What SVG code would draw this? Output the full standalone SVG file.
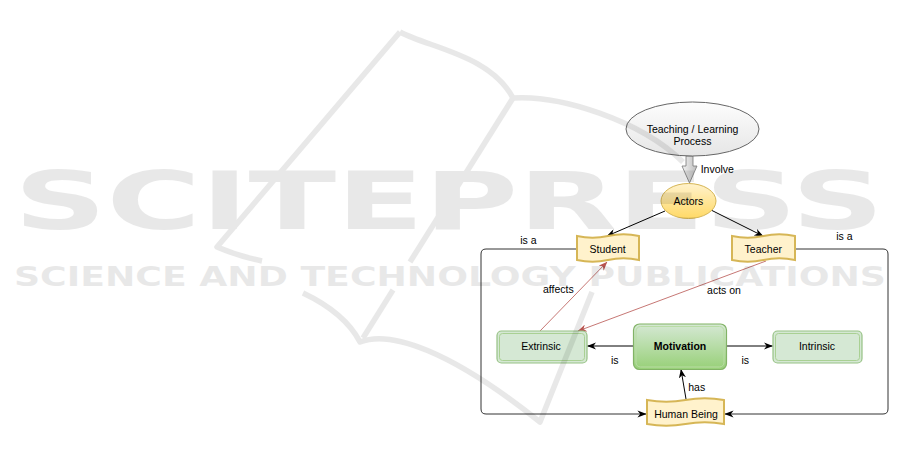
<svg xmlns="http://www.w3.org/2000/svg" width="901" height="460" viewBox="0 0 901 460">
<defs>
<style>
.lbl{font-family:"Liberation Sans",Arial,sans-serif;font-size:10.5px;fill:#000;text-anchor:middle}
.bold{font-weight:bold}
.edge{fill:none;stroke:#000;stroke-width:1}
.loop{fill:none;stroke:#333;stroke-width:1}
.red{fill:none;stroke:#b85450;stroke-width:0.8}
.tape{fill:#fff2cc;stroke:#d6b656;stroke-width:2}
.soft{fill:#d5e8d4;stroke:#97c285;stroke-width:1.2}
.inner{fill:none;stroke:#a9d093;stroke-width:1}
.wm{font-family:"DejaVu Sans",sans-serif;font-weight:bold;fill:#000}
.wml{fill:none;stroke:#000;stroke-width:5.5;stroke-linejoin:round}
</style>
<linearGradient id="gGray" x1="0" y1="0" x2="0" y2="1"><stop offset="0" stop-color="#fdfdfd"/><stop offset="1" stop-color="#e6e6e6"/></linearGradient>
<linearGradient id="gYellow" x1="0" y1="0" x2="0" y2="1"><stop offset="0" stop-color="#fff2cc"/><stop offset="1" stop-color="#ffd966"/></linearGradient>
<linearGradient id="gGreen" x1="0" y1="0" x2="0" y2="1"><stop offset="0" stop-color="#d5e8d4"/><stop offset="1" stop-color="#97d077"/></linearGradient>
<linearGradient id="gArrow" x1="0" y1="0" x2="1" y2="0"><stop offset="0" stop-color="#f4f4f4"/><stop offset="1" stop-color="#bdbdbd"/></linearGradient>
<marker id="ah" viewBox="0 0 10 8" refX="9.5" refY="4" markerWidth="9" markerHeight="7.2" orient="auto" markerUnits="userSpaceOnUse"><path d="M0,0 L10,4 L0,8 L3,4 Z" fill="#000"/></marker>
<marker id="ahr" viewBox="0 0 10 8" refX="9.5" refY="4" markerWidth="9" markerHeight="7.2" orient="auto" markerUnits="userSpaceOnUse"><path d="M0,0 L10,4 L0,8 L3,4 Z" fill="#b85450"/></marker>
</defs>
<rect width="901" height="460" fill="#fff"/>

<g id="connectors">
  <polygon points="686,156 693,156 693,166 697,166 689.5,183 682,166 686,166" fill="url(#gArrow)" stroke="#777" stroke-width="0.8"/>
  <text class="lbl" x="717.3" y="173">Involve</text>
  <path class="edge" d="M665,211 L607,236" marker-end="url(#ah)"/>
  <path class="edge" d="M711,210 L763,236" marker-end="url(#ah)"/>
  <path class="loop" d="M577,249 H486 Q481,249 481,254 V409 Q481,414 486,414 H646" marker-end="url(#ah)"/>
  <text class="lbl" x="528.3" y="243.7">is a</text>
  <path class="loop" d="M795,249 H883 Q888,249 888,254 V409 Q888,414 883,414 H725" marker-end="url(#ah)"/>
  <text class="lbl" x="844.3" y="239.7">is a</text>
  <path class="red" d="M540,331 L607,262" marker-end="url(#ahr)"/>
  <text class="lbl" x="558.3" y="293">affects</text>
  <path class="red" d="M766,261 L578,331" marker-end="url(#ahr)"/>
  <text class="lbl" x="724" y="293.7">acts on</text>
  <path class="edge" d="M633,346 H587.5" marker-end="url(#ah)"/>
  <text class="lbl" x="614.7" y="363.7">is</text>
  <path class="edge" d="M727,346 H772.5" marker-end="url(#ah)"/>
  <text class="lbl" x="745.3" y="363.7">is</text>
  <path class="edge" d="M686,399 L681,369.5" marker-end="url(#ah)"/>
  <text class="lbl" x="696.7" y="391">has</text>
</g>

<g id="teaching">
  <ellipse cx="692.5" cy="129" rx="66.5" ry="27" fill="url(#gGray)" stroke="#666" stroke-width="1"/>
  <text class="lbl" x="692.5" y="132.7">Teaching / Learning</text>
  <text class="lbl" x="692.5" y="144.7">Process</text>
</g>
<g id="actors">
  <ellipse cx="688.5" cy="201" rx="27.5" ry="17.5" fill="url(#gYellow)" stroke="#d6b656" stroke-width="1"/>
  <text class="lbl" x="688.5" y="204.7">Actors</text>
</g>
<g id="student">
  <path class="tape" transform="translate(577,234)" d="M0,2 Q15.5,5.6 31,2 Q46.5,-1.6 62,2 L62,26 Q46.5,22.4 31,26 Q15.5,29.6 0,26 Z"/>
  <text class="lbl" x="607.7" y="252.7">Student</text>
</g>
<g id="teacher">
  <path class="tape" transform="translate(732,234)" d="M0,2 Q15.75,5.6 31.5,2 Q47.25,-1.6 63,2 L63,26 Q47.25,22.4 31.5,26 Q15.75,29.6 0,26 Z"/>
  <text class="lbl" x="763.3" y="252.7">Teacher</text>
</g>
<g id="human-being">
  <path class="tape" transform="translate(647,398)" d="M0,2 Q19.25,5.6 38.5,2 Q57.75,-1.6 77,2 L77,26 Q57.75,22.4 38.5,26 Q19.25,29.6 0,26 Z"/>
  <text class="lbl" x="686" y="417.7">Human Being</text>
</g>
<g id="motivation">
  <rect x="633.5" y="324" width="93" height="45.5" rx="6" fill="url(#gGreen)" stroke="#82b366" stroke-width="1.2"/>
  <rect x="636" y="326.5" width="88" height="40.5" rx="4.5" fill="none" stroke="#b9dca5" stroke-width="1"/>
  <text class="lbl bold" x="680" y="349.7">Motivation</text>
</g>
<g id="extrinsic">
  <rect class="soft" x="497" y="331" width="90" height="32" rx="4.5"/>
  <rect class="inner" x="499.5" y="333.5" width="85" height="27" rx="3"/>
  <text class="lbl" x="541" y="349.7">Extrinsic</text>
</g>
<g id="intrinsic">
  <rect class="soft" x="773" y="331" width="89" height="32" rx="4.5"/>
  <rect class="inner" x="775.5" y="333.5" width="84" height="27" rx="3"/>
  <text class="lbl" x="817" y="349.7">Intrinsic</text>
</g>

<g id="watermark" opacity="0.085">
  <path class="wml" d="M400,32 L217,247 Q238,256 262,261"/>
  <path class="wml" d="M303,293 Q345,313 360,342 C390,330 450,350 540,422 L592,292"/>
  <path class="wml" d="M400,32 C430,48 490,55 513,98 C560,95 640,120 683,162"/>
  <path class="wml" d="M513,98 L410,262"/>
  <path class="wml" d="M393,290 L363,338"/>
  <text class="wm" x="14" y="229" font-size="81" textLength="870" lengthAdjust="spacingAndGlyphs">SCITEPRESS</text>
  <text class="wm" x="14" y="286" font-size="26" textLength="872" lengthAdjust="spacingAndGlyphs">SCIENCE AND TECHNOLOGY PUBLICATIONS</text>
</g>
</svg>
